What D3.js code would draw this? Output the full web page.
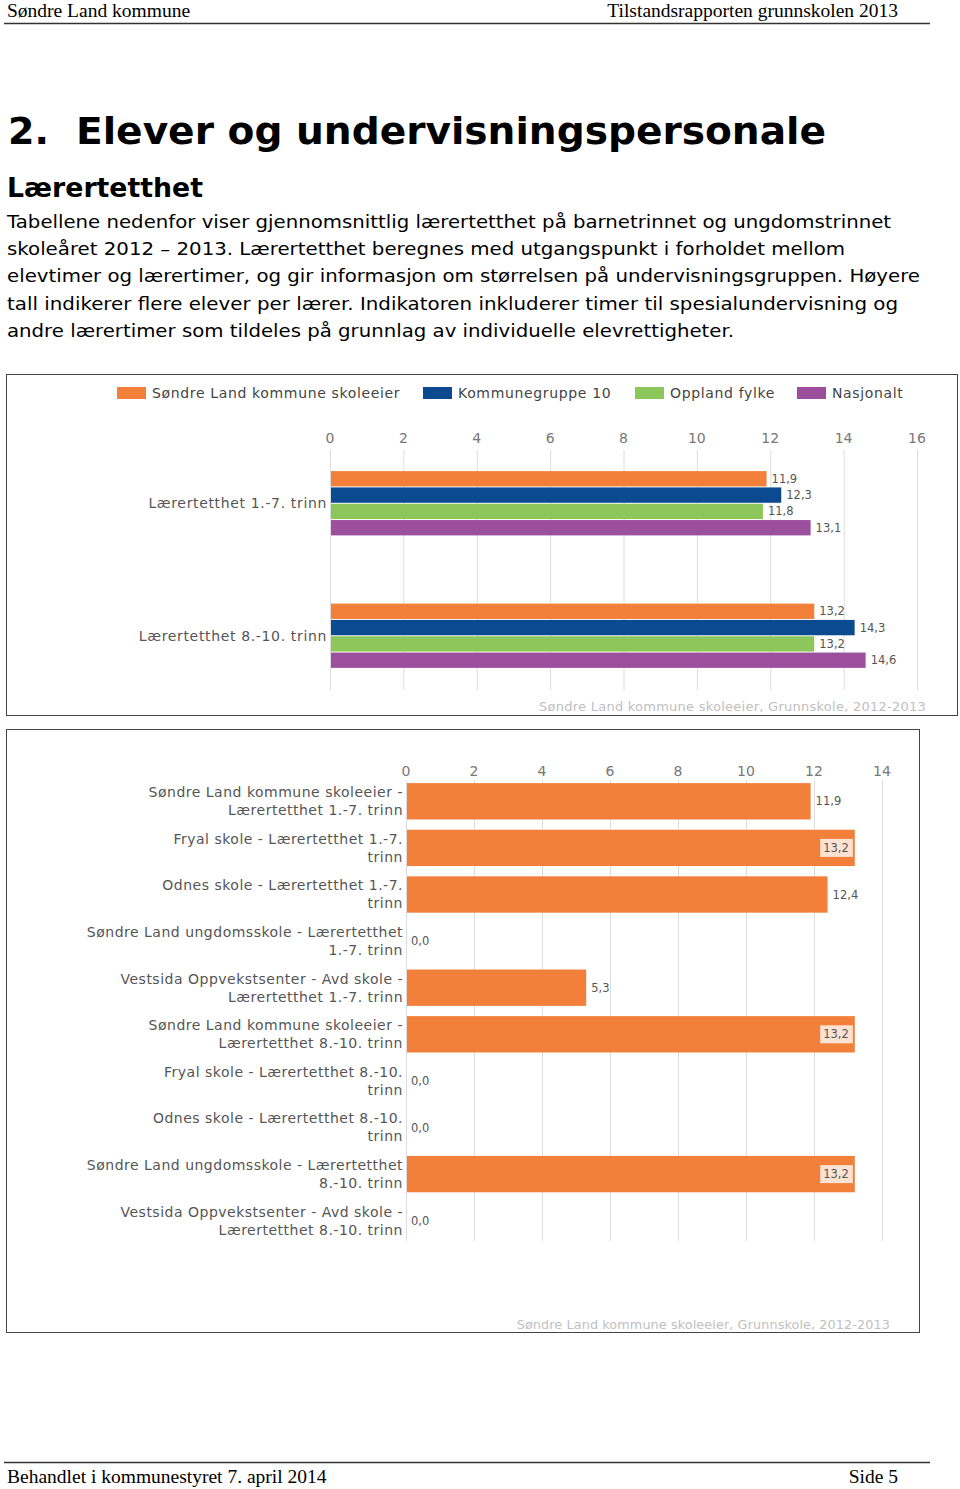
<!DOCTYPE html>
<html>
<head>
<meta charset="utf-8">
<script src="https://cdn.jsdelivr.net/npm/d3@7"></script>
<style>
  html, body { margin: 0; padding: 0; background: #fff; }
  svg { display: block; }
</style>
</head>
<body>
<svg id="page" width="960" height="1489"></svg>
<script>
// ---------- DATA ----------
const headerLeft = "Søndre Land kommune";
const headerRight = "Tilstandsrapporten grunnskolen 2013";
const footerLeft = "Behandlet i kommunestyret 7. april 2014";
const footerRight = "Side 5";
const titleNumber = "2.";
const titleText = "Elever og undervisningspersonale";
const subTitle = "Lærertetthet";
const paragraphLines = [
  "Tabellene nedenfor viser gjennomsnittlig lærertetthet på barnetrinnet og ungdomstrinnet",
  "skoleåret 2012 – 2013. Lærertetthet beregnes med utgangspunkt i forholdet mellom",
  "elevtimer og lærertimer, og gir informasjon om størrelsen på undervisningsgruppen. Høyere",
  "tall indikerer flere elever per lærer. Indikatoren inkluderer timer til spesialundervisning og",
  "andre lærertimer som tildeles på grunnlag av individuelle elevrettigheter."
];

const seriesNames = ["Søndre Land kommune skoleeier", "Kommunegruppe 10", "Oppland fylke", "Nasjonalt"];
const seriesColors = ["#f2803a", "#0b4a8f", "#8dc75b", "#9b4f9c"];
const chart1Categories = ["Lærertetthet 1.-7. trinn", "Lærertetthet 8.-10. trinn"];
const valuesSondreLand = [11.9, 13.2];
const valuesKommunegruppe10 = [12.3, 14.3];
const valuesOppland = [11.8, 13.2];
const valuesNasjonalt = [13.1, 14.6];
const chart1Ticks = [0, 2, 4, 6, 8, 10, 12, 14, 16];
const chart1Source = "Søndre Land kommune skoleeier, Grunnskole, 2012-2013";

const chart2Labels = [
  ["Søndre Land kommune skoleeier -", "Lærertetthet 1.-7. trinn"],
  ["Fryal skole - Lærertetthet 1.-7.", "trinn"],
  ["Odnes skole - Lærertetthet 1.-7.", "trinn"],
  ["Søndre Land ungdomsskole - Lærertetthet", "1.-7. trinn"],
  ["Vestsida Oppvekstsenter - Avd skole -", "Lærertetthet 1.-7. trinn"],
  ["Søndre Land kommune skoleeier -", "Lærertetthet 8.-10. trinn"],
  ["Fryal skole - Lærertetthet 8.-10.", "trinn"],
  ["Odnes skole - Lærertetthet 8.-10.", "trinn"],
  ["Søndre Land ungdomsskole - Lærertetthet", "8.-10. trinn"],
  ["Vestsida Oppvekstsenter - Avd skole -", "Lærertetthet 8.-10. trinn"]
];
const chart2Values = [11.9, 13.2, 12.4, 0.0, 5.3, 13.2, 0.0, 0.0, 13.2, 0.0];
const chart2Ticks = [0, 2, 4, 6, 8, 10, 12, 14];
const chart2Source = "Søndre Land kommune skoleeier, Grunnskole, 2012-2013";

// ---------- DRAW ----------
const svg = d3.select("#page");
const fmt = v => d3.format(".1f")(v).replace(".", ",");
const serif = "'Liberation Serif', 'Times New Roman', serif";
const sans = "'DejaVu Sans', Verdana, sans-serif";

// Header / footer
svg.append("text").attr("x", 7).attr("y", 17).attr("font-family", serif).attr("font-size", 19.5).attr("fill", "#000").text(headerLeft);
svg.append("text").attr("x", 898).attr("y", 17).attr("text-anchor", "end").attr("font-family", serif).attr("font-size", 19.5).attr("fill", "#000").text(headerRight);
svg.append("line").attr("x1", 4).attr("x2", 930).attr("y1", 23.5).attr("y2", 23.5).attr("stroke", "#333").attr("stroke-width", 1.5);
svg.append("line").attr("x1", 4).attr("x2", 930).attr("y1", 1462.5).attr("y2", 1462.5).attr("stroke", "#333").attr("stroke-width", 1.5);
svg.append("text").attr("x", 7).attr("y", 1483).attr("font-family", serif).attr("font-size", 19.5).attr("fill", "#000").text(footerLeft);
svg.append("text").attr("x", 898).attr("y", 1483).attr("text-anchor", "end").attr("font-family", serif).attr("font-size", 19.5).attr("fill", "#000").text(footerRight);

// Title
svg.append("text").attr("x", 8).attr("y", 144).attr("font-family", sans).attr("font-weight", "bold").attr("font-size", 38).attr("fill", "#000").text(titleNumber);
svg.append("text").attr("x", 76).attr("y", 144).attr("font-family", sans).attr("font-weight", "bold").attr("font-size", 38)
  .attr("textLength", 750).attr("lengthAdjust", "spacingAndGlyphs").attr("fill", "#000").text(titleText);
svg.append("text").attr("x", 7).attr("y", 197).attr("font-family", sans).attr("font-weight", "bold").attr("font-size", 27)
  .attr("textLength", 196).attr("lengthAdjust", "spacingAndGlyphs").attr("fill", "#000").text(subTitle);

const paraWidths = [884, 838, 913, 891, 727];
svg.selectAll("text.para").data(paragraphLines).join("text").attr("class", "para")
  .attr("x", 7).attr("y", (d, i) => 228 + i * 27.2)
  .attr("font-family", sans).attr("font-size", 18.5).attr("fill", "#000")
  .attr("textLength", (d, i) => paraWidths[i]).attr("lengthAdjust", "spacingAndGlyphs")
  .text(d => d);

// ---------- CHART 1 ----------
const c1 = svg.append("g");
c1.append("rect").attr("x", 6.5).attr("y", 374.5).attr("width", 951).attr("height", 341).attr("fill", "#fff").attr("stroke", "#444").attr("stroke-width", 1);

// legend
const legendX = [117, 423, 635, 797];
const lg = c1.selectAll("g.leg").data(seriesNames).join("g").attr("class", "leg")
  .attr("transform", (d, i) => `translate(${legendX[i]},387)`);
lg.append("rect").attr("width", 29).attr("height", 12).attr("fill", (d, i) => seriesColors[i]);
lg.append("text").attr("x", 35).attr("y", 11).attr("font-family", sans).attr("font-size", 14)
  .attr("letter-spacing", 0.65).attr("fill", "#444").text(d => d);

const x1 = d3.scaleLinear().domain([0, 16]).range([330, 917]);
const y1 = d3.scaleBand().domain(chart1Categories).range([437, 702]).paddingInner(0.5).paddingOuter(0.25);
const yInner = d3.scaleBand().domain(seriesNames).range([0, y1.bandwidth()]).padding(0.06);
const c1Series = [valuesSondreLand, valuesKommunegruppe10, valuesOppland, valuesNasjonalt];

// gridlines
c1.selectAll("line.grid").data(chart1Ticks).join("line").attr("class", "grid")
  .attr("x1", d => x1(d) + 0.5).attr("x2", d => x1(d) + 0.5).attr("y1", 450).attr("y2", 690)
  .attr("stroke", "#dcdcdc").attr("stroke-width", 1);
c1.selectAll("text.tick").data(chart1Ticks).join("text").attr("class", "tick")
  .attr("x", d => x1(d)).attr("y", 443).attr("text-anchor", "middle")
  .attr("font-family", sans).attr("font-size", 14).attr("fill", "#777").text(d => d);

// category labels
c1.selectAll("text.cat").data(chart1Categories).join("text").attr("class", "cat")
  .attr("x", 327).attr("y", d => y1(d) + y1.bandwidth() / 2).attr("dy", "0.35em").attr("text-anchor", "end")
  .attr("font-family", sans).attr("font-size", 14).attr("letter-spacing", 0.65).attr("fill", "#555").text(d => d);

// bars
const c1Data = [];
chart1Categories.forEach((cat, ci) => seriesNames.forEach((s, si) => c1Data.push({ cat, s, si, v: c1Series[si][ci] })));
c1.selectAll("rect.bar").data(c1Data).join("rect").attr("class", "bar")
  .attr("x", x1(0) + 1).attr("y", d => y1(d.cat) + yInner(d.s))
  .attr("width", d => x1(d.v) - x1(0) - 1).attr("height", yInner.bandwidth())
  .attr("fill", d => seriesColors[d.si]);
c1.selectAll("text.val").data(c1Data).join("text").attr("class", "val")
  .attr("x", d => x1(d.v) + 5).attr("y", d => y1(d.cat) + yInner(d.s) + yInner.bandwidth() / 2).attr("dy", "0.35em")
  .attr("font-family", sans).attr("font-size", 11.5).attr("fill", "#555").text(d => fmt(d.v));

c1.append("text").attr("x", 926).attr("y", 711).attr("text-anchor", "end").attr("font-family", sans).attr("font-size", 13)
  .attr("letter-spacing", 0.25).attr("fill", "#c0c0c0").text(chart1Source);

// ---------- CHART 2 ----------
const c2 = svg.append("g");
c2.append("rect").attr("x", 6.5).attr("y", 729.5).attr("width", 913).attr("height", 603).attr("fill", "#fff").attr("stroke", "#444").attr("stroke-width", 1);

const x2 = d3.scaleLinear().domain([0, 14]).range([406, 882]);
const idx = chart2Values.map((d, i) => i);
const y2 = d3.scaleBand().domain(idx).range([778, 1244]).paddingInner(0.22).paddingOuter(0.11);

c2.selectAll("line.grid").data(chart2Ticks).join("line").attr("class", "grid")
  .attr("x1", d => x2(d) + 0.5).attr("x2", d => x2(d) + 0.5).attr("y1", 780).attr("y2", 1241)
  .attr("stroke", "#dcdcdc").attr("stroke-width", 1);
c2.selectAll("text.tick").data(chart2Ticks).join("text").attr("class", "tick")
  .attr("x", d => x2(d)).attr("y", 776).attr("text-anchor", "middle")
  .attr("font-family", sans).attr("font-size", 14).attr("fill", "#777").text(d => d);

const lab = c2.selectAll("text.cat").data(chart2Labels).join("text").attr("class", "cat")
  .attr("text-anchor", "end").attr("font-family", sans).attr("font-size", 14).attr("letter-spacing", 0.5).attr("fill", "#555");
lab.each(function (d, i) {
  const t = d3.select(this);
  const cy = y2(i) + y2.bandwidth() / 2;
  d.forEach((line, li) => {
    t.append("tspan").attr("x", 403).attr("y", cy + (li === 0 ? -9 : 9)).attr("dy", "0.35em").text(line);
  });
});

c2.selectAll("rect.bar").data(chart2Values).join("rect").attr("class", "bar")
  .attr("x", x2(0) + 1).attr("y", (d, i) => y2(i))
  .attr("width", d => Math.max(0, x2(d) - x2(0) - 1)).attr("height", y2.bandwidth())
  .attr("fill", seriesColors[0]);

const valG = c2.selectAll("g.val").data(chart2Values).join("g").attr("class", "val");
valG.each(function (v, i) {
  const g = d3.select(this);
  const cy = y2(i) + y2.bandwidth() / 2;
  const txt = g.append("text").attr("y", cy).attr("dy", "0.35em").attr("font-family", sans).attr("font-size", 11.5)
    .attr("fill", "#555").text(fmt(v));
  const w = txt.node().getComputedTextLength();
  if (x2(v) + 5 + w > x2(14) - 2) {
    txt.attr("x", x2(v) - 6).attr("text-anchor", "end");
    g.insert("rect", "text").attr("x", x2(v) - 9 - w).attr("y", cy - 9).attr("width", w + 7).attr("height", 18)
      .attr("fill", "#fbe2d2");
  } else {
    txt.attr("x", x2(v) + 5);
  }
});

c2.append("text").attr("x", 890).attr("y", 1329).attr("text-anchor", "end").attr("font-family", sans).attr("font-size", 12.8)
  .attr("letter-spacing", 0.1).attr("fill", "#c0c0c0").text(chart2Source);
</script>
</body>
</html>
